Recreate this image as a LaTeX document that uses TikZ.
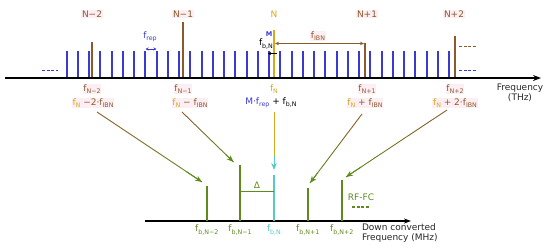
\documentclass[tikz,border=0pt]{standalone}
\usepackage{fontspec}
\setmainfont{DejaVu Sans}
\usetikzlibrary{arrows.meta,calc}
\definecolor{combblue}{HTML}{3A3AD2}
\definecolor{tone}{HTML}{8B5A2B}
\definecolor{gold}{HTML}{D6A91E}
\definecolor{olivegreen}{HTML}{5E8A1E}
\definecolor{cyanline}{HTML}{55C8C8}
\definecolor{hl}{HTML}{FDEEF3}
\newcommand{\lsub}[1]{\raisebox{-0.45ex}{\fontsize{6.3}{6.3}\selectfont #1}}
\begin{document}
\begin{tikzpicture}[x=1pt,y=-1pt,
  font=\fontsize{9}{10.5}\selectfont,
  comb/.style={combblue,line width=2pt},
  toneline/.style={tone,line width=2pt},
  greenline/.style={olivegreen,line width=2pt},
  lbl/.style={inner sep=0.8pt,fill=hl,text=tone},
  plain/.style={inner sep=0.8pt},
  dashline/.style={dash pattern=on 3pt off 1.6pt,line width=1.3pt},
  tip/.style={-{Stealth[length=7pt,width=5.5pt]}},
]
\useasboundingbox (0,0) rectangle (550,250);

% comb
\foreach \i in {0,...,34}{
  \pgfmathtruncatemacro\cx{round(66.7+11.25*\i)}
  \draw[comb] (\cx,51) -- (\cx,78);
}
% tone lines
\draw[toneline] (92,42) -- (92,78);
\draw[toneline] (183,22) -- (183,78);
\draw[toneline] (365,43) -- (365,78);
\draw[toneline] (455,36) -- (455,78);
\draw[gold,line width=2.4pt] (274,30) -- (274,78);

% top axis
\coordinate (axL) at (5,78);
\coordinate (axR) at (541,78);
\draw[line width=1.4pt,-{Stealth[length=8pt,width=6pt]}] (axL) -- (axR);
\node[plain,align=center,text=black!85] (thz) at (520,93) {Frequency\\(THz)};

% dashes
\draw[combblue,dashline] (42,70.5) -- (58,70.5);
\draw[combblue,dashline] (459,70.5) -- (476,70.5);
\draw[tone,dashline] (459,46.7) -- (476,46.7);

% top labels
\node[lbl] (nm2) at (92,14) {N−2};
\node[lbl] (nm1) at (183,14) {N−1};
\node[plain,text=gold] (n0) at (274,14) {N};
\node[lbl] (np1) at (367,14) {N+1};
\node[lbl] (np2) at (454,14) {N+2};

% f_rep
\node[plain,text=combblue] (frep) at (150,37) {f\lsub{rep}};
\coordinate (rA) at (145.5,49);
\coordinate (rB) at (156.5,49);
\draw[combblue,line width=0.9pt,{Stealth[length=3pt,width=3pt]}-{Stealth[length=3pt,width=3pt]}] (rA) -- (rB);

% M and f_b,N
\node[plain,text=combblue,font=\fontsize{6.5}{7}\selectfont\bfseries] (mlab) at (269,34) {M};
\node[plain] (fbn) at (266,44) {f\lsub{b,N}};
\coordinate (bA) at (277,53.5);
\coordinate (bB) at (268,53.5);
\draw[line width=0.8pt,-{Stealth[length=3pt,width=3pt]}] (bA) -- (bB);

% f_IBN
\coordinate (iA) at (275,43.5);
\coordinate (iB) at (364,43.5);
\draw[tone,line width=0.8pt,{Stealth[length=4pt,width=3.5pt]}-{Stealth[length=4pt,width=3.5pt]}] (iA) -- (iB);
\node[lbl] (fibn) at (318,36) {f\lsub{IBN}};

% labels below axis
\node[lbl] (fm2) at (92,89) {f\lsub{N−2}};
\node[lbl] (fm1) at (183,89) {f\lsub{N−1}};
\node[plain,text=gold] (f0) at (274,89) {f\lsub{N}};
\node[lbl] (fp1) at (367,89) {f\lsub{N+1}};
\node[lbl] (fp2) at (455,89) {f\lsub{N+2}};

\node[lbl] (ga) at (93,103) {{\color{gold}f\lsub{N}} −2·f\lsub{IBN}};
\node[lbl] (gb) at (190,103) {{\color{gold}f\lsub{N}} − f\lsub{IBN}};
\node[plain] (gc) at (271,103) {{\color{combblue}M·f\lsub{rep}} + f\lsub{b,N}};
\node[lbl] (gd) at (365,103) {{\color{gold}f\lsub{N}} + f\lsub{IBN}};
\node[lbl] (ge) at (455,103) {{\color{gold}f\lsub{N}} + 2·f\lsub{IBN}};

% bottom axis
\coordinate (bL) at (145,221);
\coordinate (bR) at (411,221);
\draw[line width=1.1pt,-{Stealth[length=7pt,width=5pt]}] (bL) -- (bR);
\draw[greenline] (207,185.7) -- (207,221);
\draw[greenline] (240,165) -- (240,221);
\draw[greenline] (308,187.7) -- (308,221);
\draw[greenline] (342,180) -- (342,221);
\draw[cyanline,line width=2.2pt] (274,175) -- (274,221);

% Delta
\coordinate (dA) at (240,191.7);
\coordinate (dB) at (274,191.7);
\draw[olivegreen,line width=0.6pt] (dA) -- (dB);
\node[plain,text=olivegreen] (delta) at (257,185.5) {Δ};

% RF-FC
\node[plain,text=olivegreen] (rffc) at (361,197) {RF-FC};
\draw[olivegreen,dashline] (352,207) -- (369,207);

% bottom labels
\node[plain,text=olivegreen] (bm2) at (206.7,230) {f\lsub{b,N−2}};
\node[plain,text=olivegreen] (bm1) at (240,230) {f\lsub{b,N−1}};
\node[plain,text=cyanline] (b0) at (274,230) {f\lsub{b,N}};
\node[plain,text=olivegreen] (bp1) at (307.7,230) {f\lsub{b,N+1}};
\node[plain,text=olivegreen] (bp2) at (341.7,230) {f\lsub{b,N+2}};
\node[plain,anchor=west,align=left,text=black!85] (mhz) at (361,233) {Down converted\\Frequency (MHz)};

% down-conversion arrows
\coordinate (sa) at (97,112);   \coordinate (ea) at (202,182);
\coordinate (sb) at (182,112);  \coordinate (eb) at (233.5,162);
\coordinate (sd) at (362,114);  \coordinate (ed) at (310,183);
\coordinate (se) at (447,110);  \coordinate (ee) at (346,177);
\foreach \s/\e in {sa/ea,sb/eb,sd/ed,se/ee}{
  \foreach \k in {0,...,4}{
    \pgfmathsetmacro\ta{\k/5}
    \pgfmathsetmacro\tb{(\k+1)/5}
    \pgfmathtruncatemacro\p{\k*25}
    \draw[olivegreen!\p!tone,line width=0.9pt] ($(\s)!\ta!(\e)$) -- ($(\s)!\tb!(\e)$);
  }
  \draw[olivegreen,line width=0.9pt,tip] ($(\s)!0.85!(\e)$) -- (\e);
}
\coordinate (sc) at (274,112);
\coordinate (mc) at (274,158);
\coordinate (ec) at (274,170);
\draw[gold,line width=1pt] (sc) -- (mc);
\draw[cyanline,line width=1pt,tip] ($(mc)+(0,-2)$) -- (ec);
\end{tikzpicture}
\end{document}
